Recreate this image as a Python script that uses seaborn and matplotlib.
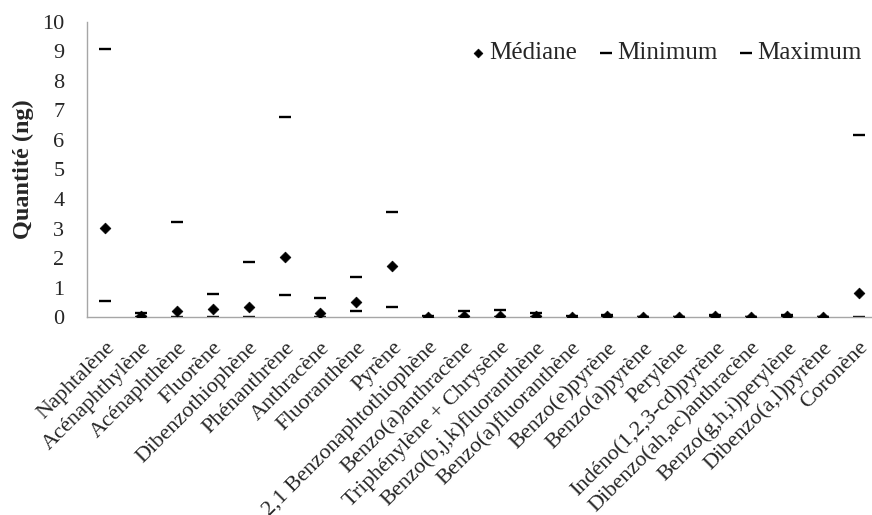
import matplotlib
matplotlib.use("Agg")
import matplotlib.pyplot as plt
import matplotlib.transforms as mtransforms
import seaborn as sns
import pandas as pd
import numpy as np
from matplotlib.ticker import FixedLocator, MultipleLocator

categories = [
    "Naphtalène", "Acénaphthylène", "Acénaphthène", "Fluorène", "Dibenzothiophène",
    "Phénanthrène", "Anthracène", "Fluoranthène", "Pyrène",
    "2,1 Benzonaphtothiophène", "Benzo(a)anthracène", "Triphénylène + Chrysène",
    "Benzo(b,j,k)fluoranthène", "Benzo(a)fluoranthène", "Benzo(e)pyrène",
    "Benzo(a)pyrène", "Perylène", "Indéno(1,2,3-cd)pyrène",
    "Dibenzo(ah,ac)anthracène", "Benzo(g,h,i)perylène", "Dibenzo(a,l)pyrène", "Coronène",
]
mediane = [3.02, 0.03, 0.22, 0.29, 0.34, 2.04, 0.16, 0.53, 1.72, 0.02, 0.04, 0.03,
           0.04, 0.02, 0.03, 0.02, 0.02, 0.04, 0.02, 0.04, 0.02, 0.82]
minimum = [0.54, 0.01, 0.02, 0.02, 0.02, 0.75, 0.02, 0.21, 0.34, 0.01, 0.01, 0.01,
           0.01, 0.01, 0.01, 0.01, 0.01, 0.01, 0.01, 0.01, 0.01, 0.02]
maximum = [9.07, 0.14, 3.23, 0.79, 1.88, 6.78, 0.66, 1.35, 3.56, 0.03, 0.20, 0.25,
           0.13, 0.03, 0.08, 0.02, 0.02, 0.09, 0.02, 0.09, 0.02, 6.17]

df = pd.DataFrame({"cat": categories, "x": np.arange(len(categories)),
                   "Médiane": mediane, "Minimum": minimum, "Maximum": maximum})

sns.set_style("white")
plt.rcParams["font.family"] = ["Liberation Serif", "DejaVu Serif"]
FS_TICK = 16
FS_LEG = 18
FS_LAB = 17.5

fig = plt.figure(figsize=(8.72, 5.15), dpi=100)
ax = fig.add_axes([0.1001, 0.3839, 0.905, 0.5740])

sns.scatterplot(data=df, x="x", y="Médiane", marker="D", s=30, color="black",
                edgecolor="black", linewidth=0.5, label="Médiane", ax=ax, zorder=3)
sns.scatterplot(data=df, x="x", y="Minimum", marker="_", s=75, color="black",
                linewidth=1.7, label="Minimum", ax=ax, zorder=2)
sns.scatterplot(data=df, x="x", y="Maximum", marker="_", s=75, color="black",
                linewidth=1.7, label="Maximum", ax=ax, zorder=2)

ax.set_xlim(-0.5, len(categories) - 0.5)
ax.set_ylim(0, 10)
ax.yaxis.set_major_locator(MultipleLocator(1))
ax.set_xticks(np.arange(len(categories)))
ax.set_xticklabels(categories, rotation=45, ha="right", va="top",
                   rotation_mode="anchor", fontsize=FS_TICK)
offset = mtransforms.ScaledTranslation(5 / 100, 0, fig.dpi_scale_trans)
for lab in ax.get_xticklabels():
    lab.set_transform(lab.get_transform() + offset)
ax.xaxis.set_minor_locator(FixedLocator(np.arange(len(categories)) - 0.5))
ax.tick_params(axis="x", which="major", length=0, pad=15)
ax.tick_params(axis="x", which="minor", length=6, width=1, color="#a6a6a6", direction="out")
ax.tick_params(axis="y", which="major", length=6.5, width=1, color="#a6a6a6",
               direction="out", labelsize=FS_TICK, pad=10)
ax.set_xlabel("")
ax.set_ylabel("Quantité (ng)", fontsize=FS_LAB, fontweight="bold")
ax.yaxis.set_label_coords(-0.0675, 0.5)

for s in ["top", "right"]:
    ax.spines[s].set_visible(False)
for s in ["left", "bottom"]:
    ax.spines[s].set_color("#a6a6a6")
    ax.spines[s].set_linewidth(1)
ax.grid(False)

leg = ax.legend(loc="center right", bbox_to_anchor=(0.988, 0.897),
                bbox_transform=fig.transFigure, ncol=3, frameon=False, fontsize=FS_LEG,
                borderpad=0, borderaxespad=0, handlelength=0.5, handletextpad=0.2,
                columnspacing=0.9, markerscale=1.0)
leg.legend_handles[0].set_sizes([20])

fig.savefig("out.png", dpi=100)
